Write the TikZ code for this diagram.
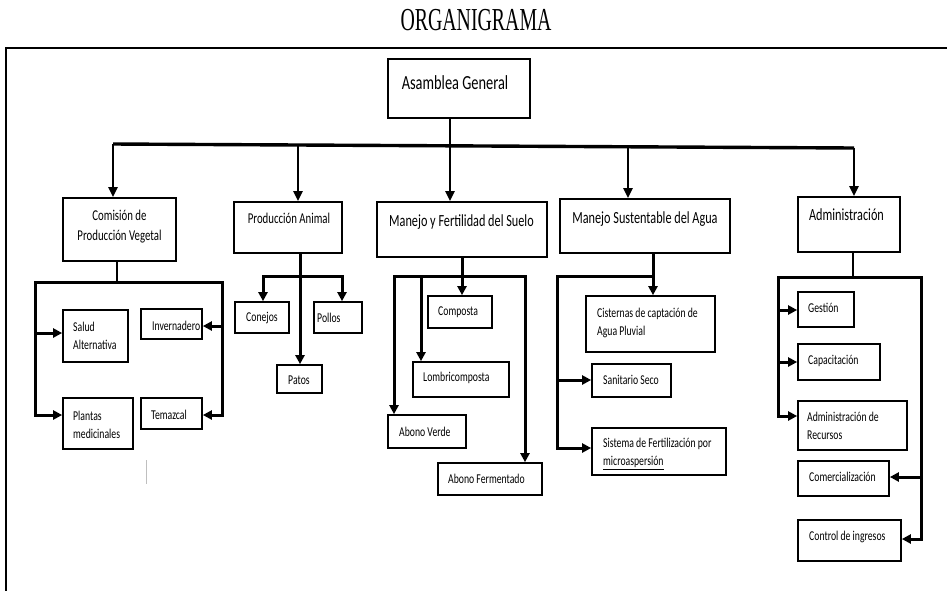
\documentclass[tikz,border=0pt]{standalone}
\usepackage{fontspec}
\setmainfont{Carlito}[FakeStretch=0.72]
\newfontfamily\titlefont{Liberation Serif}[FakeStretch=0.62]
\usetikzlibrary{arrows.meta}
\begin{document}
\begin{tikzpicture}[x=1pt,y=-1pt,
  box/.style={draw, line width=1.7pt, inner sep=0pt},
  huge/.style={font=\fontsize{20}{24}\selectfont, inner sep=0pt},
  big/.style={font=\fontsize{17}{20}\selectfont, inner sep=0pt},
  mid/.style={font=\fontsize{15}{20}\selectfont, inner sep=0pt, align=center},
  sml/.style={font=\fontsize{13.5}{18}\selectfont, inner sep=0pt, align=left, anchor=west},
  ln/.style={line width=2.2pt},
  arr/.style={line width=3pt, -{Triangle[length=9pt,width=9pt]}},
  dbl/.style={line width=3pt, {Triangle[length=9pt,width=9pt]}-{Triangle[length=9pt,width=9pt]}},
  marr/.style={line width=2.2pt, -{Triangle[length=10pt,width=9pt]}}]
\useasboundingbox (0,0) rectangle (947,590);

% frame and title
\draw[line width=1.4pt] (6,595) -- (6,48) -- (952,48);
\node[font=\titlefont\fontsize{32}{32}\selectfont, inner sep=0pt] (title) at (476,20) {ORGANIGRAMA};

% boxes
\node[box, minimum width=142pt, minimum height=59pt] (ag) at (459,88.5) {};
\node[box, minimum width=113pt, minimum height=63pt] (cpv) at (119.5,229.5) {};
\node[box, minimum width=108pt, minimum height=51pt] (pa) at (288,227.5) {};
\node[box, minimum width=170pt, minimum height=55pt] (mfs) at (462,229.5) {};
\node[box, minimum width=170pt, minimum height=54pt] (msa) at (645,226) {};
\node[box, minimum width=102pt, minimum height=55pt] (adm) at (849,224.5) {};

\node[box, minimum width=65pt, minimum height=52pt] (sa) at (95.5,336) {};
\node[box, minimum width=61pt, minimum height=30pt] (inv) at (171.5,324) {};
\node[box, minimum width=70pt, minimum height=51pt] (pm) at (98,423.5) {};
\node[box, minimum width=61pt, minimum height=31pt] (tem) at (171.5,413.5) {};

\node[box, minimum width=54pt, minimum height=31pt] (con) at (262,317.5) {};
\node[box, minimum width=48pt, minimum height=31pt] (pol) at (338,317.5) {};
\node[box, minimum width=45pt, minimum height=28pt] (pat) at (299.5,379) {};

\node[box, minimum width=64pt, minimum height=32pt] (comp) at (460,312) {};
\node[box, minimum width=96pt, minimum height=35pt] (lomb) at (461,379.5) {};
\node[box, minimum width=78pt, minimum height=33pt] (av) at (427,431.5) {};
\node[box, minimum width=104pt, minimum height=32pt] (af) at (490,479) {};

\node[box, minimum width=129pt, minimum height=56pt] (cis) at (650.5,324) {};
\node[box, minimum width=79pt, minimum height=33pt] (ss) at (631.5,380.5) {};
\node[box, minimum width=134pt, minimum height=47pt] (sf) at (659,451.5) {};

\node[box, minimum width=56pt, minimum height=35pt] (ges) at (826,309.5) {};
\node[box, minimum width=82pt, minimum height=36pt] (cap) at (839,362) {};
\node[box, minimum width=109pt, minimum height=49pt] (adr) at (852.5,425.5) {};
\node[box, minimum width=91pt, minimum height=35pt] (com) at (843.5,478.5) {};
\node[box, minimum width=103pt, minimum height=41pt] (ci) at (849.5,540.5) {};

% texts
\node[huge] (tag) at (455,83) {Asamblea General};
\node[mid] (tcpv) at (119.5,227) {Comisión de\\Producción Vegetal};
\node[mid] (tpa) at (289,218) {Producción Animal};
\node[big] (tmfs) at (461.5,222) {Manejo y Fertilidad del Suelo};
\node[big] (tmsa) at (645,219) {Manejo Sustentable del Agua};
\node[big] (tadm) at (846.5,215) {Administración};

\node[sml] (tsa) at (73,335.5) {Salud\\Alternativa};
\node[sml] (tinv) at (152,326) {Invernadero};
\node[sml] (tpm) at (73,424.5) {Plantas\\medicinales};
\node[sml] (ttem) at (151,415) {Temazcal};
\node[sml] (tcon) at (246,318) {Conejos};
\node[sml] (tpol) at (317,318) {Pollos};
\node[sml] (tpat) at (288,380) {Patos};
\node[sml] (tcomp) at (438,312) {Composta};
\node[sml] (tlomb) at (423,378) {Lombricomposta};
\node[sml] (tav) at (399,432) {Abono Verde};
\node[sml] (taf) at (448,479) {Abono Fermentado};
\node[sml] (tcis) at (597,322.5) {Cisternas de captación de\\Agua Pluvial};
\node[sml] (tss) at (603,380) {Sanitario Seco};
\node[sml] (tsf) at (603,454) {Sistema de Fertilización por\\\underline{microaspersión}};
\node[sml] (tges) at (808,308) {Gestión};
\node[sml] (tcap) at (808,361) {Capacitación};
\node[sml] (tadr) at (807,426) {Administración de\\Recursos};
\node[sml] (tcom) at (809,477) {Comercialización};
\node[sml] (tci) at (809,537) {Control de ingresos};

% main connectors
\coordinate (bl) at (113,144);
\coordinate (br) at (854,148);
\coordinate (b0) at (450,145.8);
\coordinate (b1) at (298,145);
\coordinate (b3) at (628,146.8);
\draw[line width=2.2pt] (ag.south -| b0) -- (b0);
\draw[line width=3.4pt] (bl) -- (br);
\draw[marr] (bl) -- (cpv.north -| bl);
\draw[marr] (b1) -- (pa.north -| b1);
\draw[marr] (b0) -- (mfs.north -| b0);
\draw[marr] (b3) -- (msa.north -| b3);
\draw[marr] (br) -- (adm.north -| br);

% Comision de Produccion Vegetal
\coordinate (v0) at (117,282);
\coordinate (vl) at (35,282);
\coordinate (vr) at (222,282);
\coordinate (vlb) at (35,415);
\coordinate (vrb) at (222,415);
\coordinate (vls) at (35,333);
\coordinate (vri) at (222,326);
\draw[ln] (cpv.south -| v0) -- (v0);
\draw[dbl] (vlb -| pm.west) -- (vlb) -- (vl) -- (vr) -- (vrb) -- (vrb -| tem.east);
\draw[arr] (vls) -- (vls -| sa.west);
\draw[arr] (vri) -- (vri -| inv.east);

% Produccion Animal
\coordinate (p0) at (300,276);
\coordinate (pl) at (263,276);
\coordinate (pr) at (342,276);
\draw[arr] (pa.south -| p0) -- (pat.north -| p0);
\draw[dbl] (con.north -| pl) -- (pl) -- (pr) -- (pol.north -| pr);

% Manejo y Fertilidad del Suelo
\coordinate (m0) at (462,276);
\coordinate (ml) at (394,276);
\coordinate (mm) at (421,276);
\coordinate (mr) at (525,276);
\draw[arr] (mfs.south -| m0) -- (comp.north -| m0);
\draw[dbl] (av.north -| ml) -- (ml) -- (mr) -- (af.north -| mr);
\draw[arr] (mm) -- (lomb.north -| mm);

% Manejo Sustentable del Agua
\coordinate (s0) at (653,276);
\coordinate (sl) at (557,276);
\coordinate (slb) at (557,448);
\coordinate (sls) at (557,380);
\draw[arr] (msa.south -| s0) -- (cis.north -| s0);
\draw[arr] (s0) -- (sl) -- (slb) -- (slb -| sf.west);
\draw[arr] (sls) -- (sls -| ss.west);

% Administracion
\coordinate (a0) at (853,277);
\coordinate (al) at (778,277);
\coordinate (ar) at (921,277);
\coordinate (alb) at (778,416);
\coordinate (arb) at (921,539);
\coordinate (alg) at (778,310);
\coordinate (alc) at (778,362);
\coordinate (arc) at (921,477);
\draw[ln] (adm.south -| a0) -- (a0);
\draw[dbl] (alb -| adr.west) -- (alb) -- (al) -- (ar) -- (arb) -- (arb -| ci.east);
\draw[arr] (alg) -- (alg -| ges.west);
\draw[arr] (alc) -- (alc -| cap.west);
\draw[arr] (arc) -- (arc -| com.east);

% faint mark
\draw[black!25, line width=1pt] (146.5,460) -- (146.5,484);
\end{tikzpicture}
\end{document}
